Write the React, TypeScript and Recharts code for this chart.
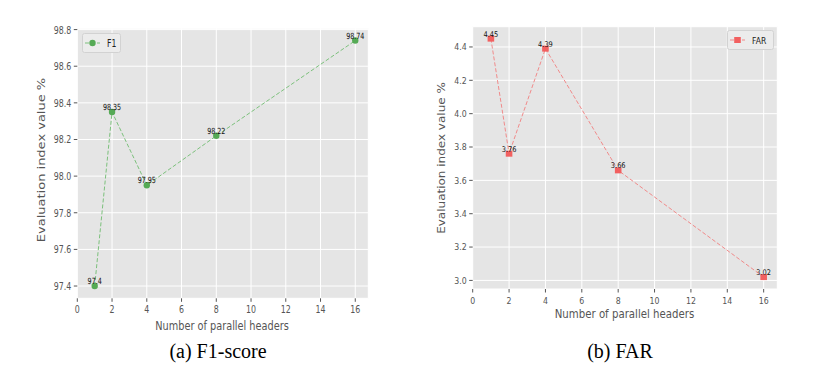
import React from 'react';
import { LineChart, Line, XAxis, YAxis, CartesianGrid, Legend, LabelList } from 'recharts';

const headers = [1, 2, 4, 8, 16];
const f1Values = [97.4, 98.35, 97.95, 98.22, 98.74];
const farValues = [4.45, 3.76, 4.39, 3.66, 3.02];
const xTicks = [0, 2, 4, 6, 8, 10, 12, 14, 16];
const f1Ticks = [97.4, 97.6, 97.8, 98.0, 98.2, 98.4, 98.6, 98.8];
const farTicks = [3.0, 3.2, 3.4, 3.6, 3.8, 4.0, 4.2, 4.4];

const FONT = '"DejaVu Sans", Verdana, sans-serif';
const GREY = '#555555';

interface PanelProps {
  left: number;
  width: number;
  height: number;
  plot: { x0: number; x1: number; y0: number; y1: number }; // relative to panel
  sx: number; // horizontal squash of the source image
  tickFont: number;
  labelFont: number;
  valueFont: number;
  yDomain: [number, number];
  yTicks: number[];
  values: number[];
  name: string;
  color: string;
  lineColor: string;
  marker: 'circle' | 'square';
  yLabelPos: [number, number];
  xLabelPos: [number, number];
  legendBox: { x: number; y: number; w: number; h: number; font: number };
}

const Panel: React.FC<PanelProps> = (p) => {
  const data = headers.map((h, i) => ({ h, v: p.values[i] }));
  const yAxisWidth = 40;
  const xAxisHeight = 40;
  const margin = {
    top: p.plot.y0,
    left: p.plot.x0 - yAxisWidth,
    right: p.width - p.plot.x1,
    bottom: p.height - p.plot.y1 - xAxisHeight,
  };

  const drawMarker = (cx: number, cy: number, key?: string | number) =>
    p.marker === 'circle' ? (
      <circle key={key} cx={cx} cy={cy} r={3.2} fill={p.color} />
    ) : (
      <rect key={key} x={cx - 3.3} y={cy - 3} width={6.6} height={6} fill={p.color} />
    );

  const XTick = (props: any) => {
    const { x, payload } = props;
    return (
      <text
        transform={`translate(${x},${p.plot.y1 + 14.5}) scale(${p.sx},1)`}
        textAnchor="middle"
        fontSize={p.tickFont}
        fontFamily={FONT}
        fill={GREY}
      >
        {payload.value}
      </text>
    );
  };

  const YTick = (props: any) => {
    const { y, payload } = props;
    return (
      <text
        transform={`translate(${p.plot.x0 - 6},${y}) scale(${p.sx},1)`}
        textAnchor="end"
        dominantBaseline="central"
        fontSize={p.tickFont}
        fontFamily={FONT}
        fill={GREY}
      >
        {Number(payload.value).toFixed(1)}
      </text>
    );
  };

  const ValueLabel = (props: any) => {
    const { x, y, value } = props;
    return (
      <text
        transform={`translate(${x},${y - 2}) scale(${p.sx},1)`}
        textAnchor="middle"
        fontSize={p.valueFont}
        fontFamily={FONT}
        fill="#111"
      >
        {String(value)}
      </text>
    );
  };

  const lb = p.legendBox;
  const LegendBox = () => (
    <svg width={lb.w + 1} height={lb.h + 1} style={{ display: 'block' }}>
      <rect x={0.5} y={0.5} width={lb.w} height={lb.h} rx={2} fill="#ececec" stroke="#d2d2d2" />
      <line x1={3} y1={lb.h / 2 + 0.5} x2={18} y2={lb.h / 2 + 0.5} stroke={p.lineColor} strokeDasharray="4 2" />
      {drawMarker(10.5, lb.h / 2 + 0.5)}
      <text
        transform={`translate(25,${lb.h / 2 + 4}) scale(${p.sx},1)`}
        fontSize={lb.font}
        fontFamily={FONT}
        fill="#222"
      >
        {p.name}
      </text>
    </svg>
  );

  return (
    <div style={{ position: 'absolute', left: p.left, top: 0 }}>
      <LineChart width={p.width} height={p.height} data={data} margin={margin}>
        <CartesianGrid fill="#e5e5e5" stroke="#ffffff" strokeWidth={1} />
        <XAxis
          dataKey="h"
          type="number"
          domain={[0, 16.75]}
          ticks={xTicks}
          allowDataOverflow
          height={xAxisHeight}
          axisLine={false}
          tickLine={{ stroke: GREY }}
          tickSize={3.5}
          tick={<XTick />}
          interval={0}
          label={{
            content: () => (
              <text
                transform={`translate(${p.xLabelPos[0]},${p.xLabelPos[1]}) scale(${p.sx},1)`}
                textAnchor="middle"
                fontSize={p.labelFont}
                fontFamily={FONT}
                fill={GREY}
              >
                Number of parallel headers
              </text>
            ),
          }}
        />
        <YAxis
          type="number"
          domain={p.yDomain}
          ticks={p.yTicks}
          allowDataOverflow
          width={yAxisWidth}
          axisLine={false}
          tickLine={{ stroke: GREY }}
          tickSize={3.5}
          tick={<YTick />}
          interval={0}
          label={{
            content: () => (
              <text
                transform={`translate(${p.yLabelPos[0]},${p.yLabelPos[1]}) scale(${p.sx},1) rotate(-90)`}
                textAnchor="middle"
                dominantBaseline="central"
                fontSize={p.labelFont}
                fontFamily={FONT}
                fill={GREY}
              >
                Evaluation index value %
              </text>
            ),
          }}
        />
        <Legend
          layout="horizontal"
          verticalAlign="middle"
          align="center"
          wrapperStyle={{ left: lb.x, top: lb.y, width: lb.w + 1, height: lb.h + 1 }}
          content={<LegendBox />}
        />
        <Line
          type="linear"
          dataKey="v"
          name={p.name}
          stroke={p.lineColor}
          strokeWidth={1}
          strokeDasharray="4 2"
          isAnimationActive={false}
          dot={(d: any) => drawMarker(d.cx, d.cy, d.index)}
          activeDot={false}
        >
          <LabelList dataKey="v" content={<ValueLabel />} />
        </Line>
      </LineChart>
    </div>
  );
};

const captionStyle: React.CSSProperties = {
  position: 'absolute',
  top: 340,
  fontFamily: '"Liberation Serif", "Times New Roman", serif',
  fontSize: 20,
  color: '#000',
  whiteSpace: 'nowrap',
  transform: 'translateX(-50%)',
};

export default function App() {
  return (
    <div style={{ position: 'absolute', left: 0, top: 0, width: 831, height: 374, background: '#fff' }}>
      <Panel
        left={0}
        width={400}
        height={340}
        plot={{ x0: 77.3, x1: 368.3, y0: 28.3, y1: 298.3 }}
        sx={0.75}
        tickFont={10.5}
        labelFont={13}
        valueFont={8.5}
        yDomain={[97.333, 98.807]}
        yTicks={f1Ticks}
        values={f1Values}
        name="F1"
        color="#55aa55"
        lineColor="#7cc07c"
        marker="circle"
        yLabelPos={[42, 160]}
        xLabelPos={[222, 330]}
        legendBox={{ x: 82, y: 33, w: 38, h: 19, font: 10.3 }}
      />
      <Panel
        left={415}
        width={416}
        height={340}
        plot={{ x0: 57.7, x1: 362.3, y0: 26.7, y1: 289 }}
        sx={0.85}
        tickFont={9.2}
        labelFont={12}
        valueFont={7.8}
        yDomain={[2.9485, 4.5215]}
        yTicks={farTicks}
        values={farValues}
        name="FAR"
        color="#f26060"
        lineColor="#f08a8a"
        marker="square"
        yLabelPos={[27, 158]}
        xLabelPos={[209.5, 318]}
        legendBox={{ x: 312, y: 30, w: 46, h: 19, font: 9 }}
      />
      <div style={{ ...captionStyle, left: 218 }}>(a) F1-score</div>
      <div style={{ ...captionStyle, left: 620 }}>(b) FAR</div>
    </div>
  );
}
